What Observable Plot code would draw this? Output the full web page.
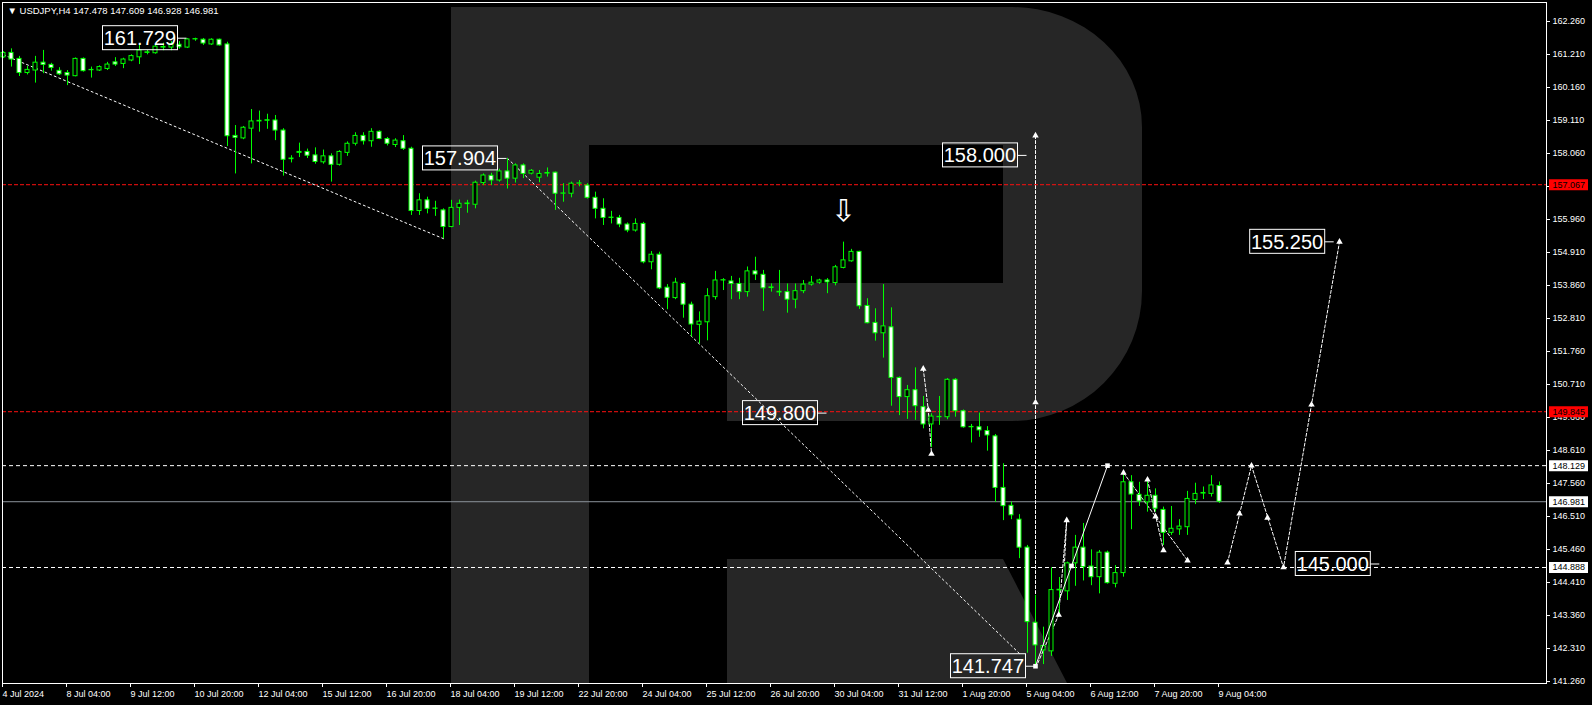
<!DOCTYPE html>
<html>
<head>
<meta charset="utf-8">
<script src="https://cdn.jsdelivr.net/npm/d3@7"></script>
<script src="https://cdn.jsdelivr.net/npm/@observablehq/plot@0.6"></script>
<style>
  html, body { margin: 0; padding: 0; background: #000; }
  #chart { width: 1592px; height: 705px; overflow: hidden; }
</style>
</head>
<body>
<div id="chart"></div>
<script>
// ---------------- DATA ----------------
const headerText = "▼ USDJPY,H4 147.478 147.609 146.928 146.981";

// H4 bars, index 0 = 4 Jul 2024 20:00 ... index 152 = 9 Aug 2024 04:00
const barOpen = [
161.12,161.26,161.07,160.62,160.70,160.95,160.88,160.69,160.62,160.52,
161.07,160.71,160.70,160.75,160.96,160.91,161.02,161.12,161.26,161.25,
161.43,161.43,161.52,161.43,161.69,161.68,161.53,161.68,161.53,158.62,
158.54,158.85,159.08,159.10,159.11,158.79,157.88,158.08,158.11,158.00,
157.78,157.97,157.70,158.08,158.37,158.62,158.45,158.75,158.52,158.33,
158.45,158.21,156.23,156.57,156.30,156.25,155.72,156.33,156.45,156.43,
157.12,157.35,157.20,157.49,157.26,157.68,157.42,157.29,157.42,157.45,
156.78,156.78,157.10,157.04,156.65,156.30,156.01,156.01,155.80,155.61,
155.82,154.60,154.84,153.79,153.46,153.91,153.25,152.61,152.69,153.49,
154.02,153.99,153.91,153.65,154.31,154.20,153.78,153.66,153.65,153.41,
153.68,153.89,153.95,154.02,153.94,154.42,154.63,154.93,153.21,152.67,
152.34,152.53,150.92,150.31,150.53,149.99,149.44,149.67,149.67,150.86,
149.86,149.35,149.35,149.23,149.06,147.42,146.85,146.41,145.52,143.13,
142.25,142.22,144.16,144.13,145.02,145.52,144.92,144.58,145.36,144.37,
144.71,147.60,147.20,146.96,147.17,146.72,145.99,146.10,146.17,147.04,
147.24,147.23,147.478];
const barHigh = [
161.30,161.39,161.15,160.83,161.15,161.34,160.93,160.79,160.70,161.10,
161.10,160.81,160.85,160.96,161.11,161.09,161.20,161.55,161.34,161.55,
161.57,161.62,161.62,161.72,161.729,161.72,161.71,161.70,161.60,158.95,
158.92,159.46,159.41,159.31,159.27,158.85,157.99,158.39,158.20,158.24,
158.17,158.05,158.15,158.43,158.72,158.72,158.85,158.78,158.57,158.53,
158.63,158.26,156.78,156.67,156.54,156.30,156.57,156.58,156.57,157.18,
157.41,157.43,157.56,157.904,157.73,157.73,157.55,157.52,157.60,157.47,
157.10,157.15,157.20,157.10,156.83,156.62,156.22,156.09,155.85,155.98,
155.87,154.94,154.92,153.89,154.09,153.95,153.33,153.02,153.76,154.31,
154.08,154.15,154.09,154.45,154.76,154.34,153.91,154.34,153.91,153.91,
154.02,154.15,154.06,154.08,154.50,155.24,155.01,154.95,153.44,153.12,
153.89,153.15,150.95,150.68,151.24,150.33,149.78,150.33,150.90,150.90,
149.90,149.44,149.80,149.37,149.12,148.19,146.97,146.57,145.59,144.00,
142.99,144.88,144.57,145.06,145.91,146.29,145.45,145.43,145.41,144.95,
147.92,147.81,147.60,147.63,147.39,146.81,146.83,146.41,147.31,147.57,
147.45,147.81,147.609];
const barLow = [
161.08,160.81,160.51,160.56,160.30,160.60,160.68,160.54,160.22,160.50,
160.65,160.46,160.67,160.70,160.83,160.76,160.98,160.89,161.20,161.22,
161.33,161.33,161.38,161.40,161.63,161.50,161.50,161.48,158.28,157.41,
158.50,157.73,158.74,158.83,158.47,157.34,157.76,157.93,157.90,157.72,
157.72,157.15,157.66,157.97,158.30,158.33,158.26,158.50,158.30,158.25,
158.16,156.09,156.09,156.14,156.06,155.35,155.70,155.77,156.16,156.30,
157.04,157.04,157.15,156.93,157.12,157.26,157.38,157.13,157.31,156.25,
156.51,156.65,157.00,156.61,155.98,155.77,155.82,155.70,155.54,155.56,
154.55,154.36,153.73,153.09,153.41,152.82,152.22,152.00,152.10,153.40,
153.70,153.41,153.41,153.49,154.02,153.04,153.65,153.51,152.98,153.12,
153.60,153.84,153.90,153.60,153.85,154.39,154.60,153.10,152.64,152.09,
151.55,150.02,149.72,149.60,149.57,149.30,148.70,149.41,149.59,149.67,
149.32,148.85,149.03,148.59,146.96,146.38,146.41,145.17,142.16,141.747,
141.80,142.06,143.41,143.84,144.29,144.46,144.31,144.05,144.36,144.24,
144.58,146.09,146.83,146.65,146.65,145.59,145.91,145.91,145.91,146.89,
147.05,147.13,146.928];
const barClose = [
161.26,161.05,160.62,160.72,160.95,160.88,160.78,160.58,160.54,161.07,
160.68,160.72,160.81,160.89,160.89,161.05,161.16,161.34,161.28,161.46,
161.45,161.53,161.44,161.69,161.70,161.56,161.68,161.50,158.61,158.56,
158.88,159.08,159.10,159.12,158.79,157.86,157.90,158.11,157.99,157.79,
157.97,157.70,158.11,158.37,158.62,158.45,158.75,158.52,158.37,158.47,
158.21,156.23,156.57,156.30,156.31,155.72,156.33,156.46,156.47,157.13,
157.36,157.20,157.49,157.26,157.68,157.41,157.51,157.41,157.44,156.78,
156.79,157.10,157.11,156.65,156.30,156.01,156.02,155.80,155.61,155.82,
154.60,154.84,153.77,153.47,153.95,153.25,152.62,152.71,153.52,154.02,
154.03,153.91,153.65,154.31,154.21,153.77,153.80,153.64,153.41,153.68,
153.89,153.95,154.02,153.96,154.44,154.66,154.93,153.20,152.66,152.34,
152.56,150.92,150.31,150.53,150.02,149.44,149.69,149.68,150.86,149.86,
149.35,149.36,149.25,149.09,147.42,146.84,146.55,145.52,143.15,142.41,
142.39,144.17,144.18,145.02,145.52,144.90,144.58,145.36,144.39,144.71,
147.60,147.21,146.99,147.17,146.76,145.99,146.12,146.19,147.07,147.23,
147.26,147.50,146.981];

const xTickBars = [0,8,16,24,32,40,48,56,64,72,80,88,96,104,112,120,128,136,144,152];
const xTickLabels = ["4 Jul 2024","8 Jul 04:00","9 Jul 12:00","10 Jul 20:00","12 Jul 04:00",
  "15 Jul 12:00","16 Jul 20:00","18 Jul 04:00","19 Jul 12:00","22 Jul 20:00","24 Jul 04:00",
  "25 Jul 12:00","26 Jul 20:00","30 Jul 04:00","31 Jul 12:00","1 Aug 20:00","5 Aug 04:00",
  "6 Aug 12:00","7 Aug 20:00","9 Aug 04:00"];
const yTickValues = [162.26,161.21,160.16,159.11,158.06,157.01,155.96,154.91,153.86,152.81,
  151.76,150.71,149.66,148.61,147.56,146.51,145.46,144.41,143.36,142.31,141.26];

// horizontal levels
const levelPrices = [157.067, 149.845, 148.129, 146.981, 144.888];
const levelKinds  = ["resistance", "resistance", "target", "bid", "target"];

// price labels (boxed) and the bar they point to
const labelTexts  = ["161.729","157.904","158.000","149.800","141.747","155.250","145.000"];
const labelPrices = [161.729, 157.904, 158.000, 149.800, 141.747, 155.250, 145.000];
const labelBars   = [23, 63, 128, 103, 129, 166.4, 172.1];

// dotted trend lines
const trendPaths = [
  {bars: [0, 55],      prices: [161.20, 155.35]},
  {bars: [63, 127.2],  prices: [157.904, 142.10]}
];
// dashed forecast paths
const forecastPaths = [
  {bars: [129, 129],                 prices: [158.63, 141.90]},
  {bars: [114.97, 115.6, 116.0],     prices: [151.21, 149.90, 148.50]},
  {bars: [129.3, 131.9, 132.9, 132.6], prices: [141.85, 143.38, 146.39, 144.93]},
  {bars: [140, 144, 148],            prices: [147.90, 146.51, 145.11]},
  {bars: [143, 145],                 prices: [147.68, 145.43]},
  {bars: [153, 156, 160, 167],       prices: [145.04, 148.13, 144.888, 155.25]}
];
const arrowBars   = [129, 129, 114.97, 115.6, 116.0, 131.9, 132.9, 140, 144, 148, 143, 145, 153, 154.5, 156, 158, 160, 163.5, 167];
const arrowPrices = [158.63, 150.14, 151.21, 149.90, 148.50, 143.38, 146.39, 147.90, 146.51, 145.11, 147.68, 145.43, 145.04, 146.60, 148.13, 146.47, 144.888, 150.07, 155.25];
// solid projection line with square nodes
const solidBars   = [129, 133.5, 138];
const solidPrices = [141.747, 144.938, 148.129];
// down arrow signal
const signalBar = 105, signalPrice = 156.22;

// ---------------- BUILD ----------------
const W = 1592, H = 705;
const M = {top: 2, right: 46, bottom: 22, left: 2};
const PX_PER_BAR = 8, FIRST_BAR_PX = 3;
const xDomain = [(M.left - FIRST_BAR_PX) / PX_PER_BAR, (W - M.right - FIRST_BAR_PX) / PX_PER_BAR];
const yDomain = [141.1975, 162.8645];
const FONT = "Liberation Sans, Arial, sans-serif";
const GREEN = "#00ff00";

const bars = barOpen.map((o, i) => ({i, o, h: barHigh[i], l: barLow[i], c: barClose[i]}));
const labelMap = new Map(xTickBars.map((b, i) => [b, xTickLabels[i]]));
const levelStyle = {
  resistance: {stroke: "#ff1010", dash: "4,2", box: "#ff0000"},
  target:     {stroke: "#ffffff", dash: "4,3", box: "#ffffff"},
  bid:        {stroke: "#8c949c", dash: null,  box: "#ffffff"}
};
const levels = levelPrices.map((p, i) => ({p, kind: levelKinds[i]}));
const labels = labelTexts.map((t, i) => ({t, p: labelPrices[i], k: labelBars[i]}));
const toPts = (paths) => paths.flatMap((path, id) => path.bars.map((b, j) => ({id, b, p: path.prices[j]})));
const trendPts = toPts(trendPaths);
const forecastPts = toPts(forecastPaths);
const arrows = arrowBars.map((b, i) => ({b, p: arrowPrices[i]}));
const solidPts = solidBars.map((b, i) => ({b, p: solidPrices[i]}));

// broker logo watermark, relative to the frame
function watermark() {
  const g = d3.create("svg:g");
  g.append("path")
    .attr("fill", "#262626")
    .attr("d", "M451,7H1012A130,120 0 0 1 1142,127V291A130,130 0 0 1 1012,421H727V283H1003V145H589V683H451Z" +
               "M727,559H1003L1067,683H727Z");
  return g.node();
}

const marks = [watermark];
for (const kind of ["resistance", "target", "bid"]) {
  const s = levelStyle[kind];
  marks.push(Plot.ruleY(levels.filter(d => d.kind === kind), {y: "p", stroke: s.stroke, strokeDasharray: s.dash || undefined}));
}
marks.push(
  Plot.line(trendPts, {x: "b", y: "p", z: "id", stroke: "white", strokeDasharray: "2,3", strokeWidth: 1}),
  Plot.line(forecastPts, {x: "b", y: "p", z: "id", stroke: "white", strokeDasharray: "3,2", strokeWidth: 1}),
  Plot.ruleX(bars, {x: "i", y1: "l", y2: "h", stroke: GREEN}),
  Plot.rect(bars, {x1: "i", x2: "i", y1: "o", y2: "c", insetLeft: -2, insetRight: -2,
    fill: d => d.c >= d.o ? "#000000" : "#ffffff", stroke: GREEN, strokeWidth: 1}),
  Plot.line(solidPts, {x: "b", y: "p", stroke: "white", strokeWidth: 1}),
  Plot.dot(solidPts, {x: "b", y: "p", symbol: "square", r: 2.6, fill: "white"}),
  Plot.dot(arrows, {x: "b", y: "p", symbol: "triangle", r: 2.4, fill: "white"}),
  // boxed labels
  Plot.rect(labels, {x1: "k", x2: "k", y1: "p", y2: "p", insetLeft: -84.5, insetRight: 9.5, insetTop: -12, insetBottom: -12,
    fill: "none", stroke: "white"}),
  Plot.ruleY(labels, {y: "p", x1: "k", x2: "k", insetLeft: -9.5, insetRight: 0.5, stroke: "white"}),
  Plot.text(labels, {x: "k", y: "p", text: "t", textAnchor: "end", dx: -11.5, dy: 0.5, fontSize: 20, fill: "white", fontFamily: FONT}),
  Plot.text([signalPrice], {x: () => signalBar, y: d => d, text: () => "⇩", fontSize: 30, fill: "white", fontFamily: "DejaVu Sans"}),
  Plot.frame({stroke: "white"}),
  Plot.axisY(yTickValues, {anchor: "right", tickSize: 3, tickPadding: 3, tickFormat: d3.format(".3f"),
    stroke: "white", fill: "white", fontSize: 9, fontFamily: FONT}),
  Plot.axisX(xTickBars, {anchor: "bottom", tickSize: 4, tickPadding: 3, tickFormat: d => labelMap.get(d),
    textAnchor: "start", dx: -1, stroke: "white", fill: "white", fontSize: 9, fontFamily: FONT})
);
// price tags on the right scale
for (const kind of ["resistance", "target", "bid"]) {
  const s = levelStyle[kind];
  marks.push(Plot.ruleY(levels.filter(d => d.kind === kind), {y: "p", stroke: s.box, strokeWidth: 11,
    insetLeft: (W - M.right - M.left) + 3, insetRight: -42}));
}
marks.push(
  Plot.text(levels, {y: "p", text: d => d.p.toFixed(3), frameAnchor: "right", dx: 6, textAnchor: "start",
    fill: "black", fontSize: 9, fontFamily: FONT}),
  Plot.text([headerText], {text: d => d, frameAnchor: "top-left", dx: 5, dy: 5, lineAnchor: "top",
    textAnchor: "start", fill: "white", fontSize: 9.5, fontFamily: FONT})
);

const chart = Plot.plot({
  width: W, height: H,
  marginTop: M.top, marginRight: M.right, marginBottom: M.bottom, marginLeft: M.left,
  x: {type: "linear", domain: xDomain},
  y: {type: "linear", domain: yDomain},
  style: {background: "#000", color: "white", fontFamily: FONT, fontSize: "9px"},
  marks
});
document.getElementById("chart").append(chart);
</script>
</body>
</html>
